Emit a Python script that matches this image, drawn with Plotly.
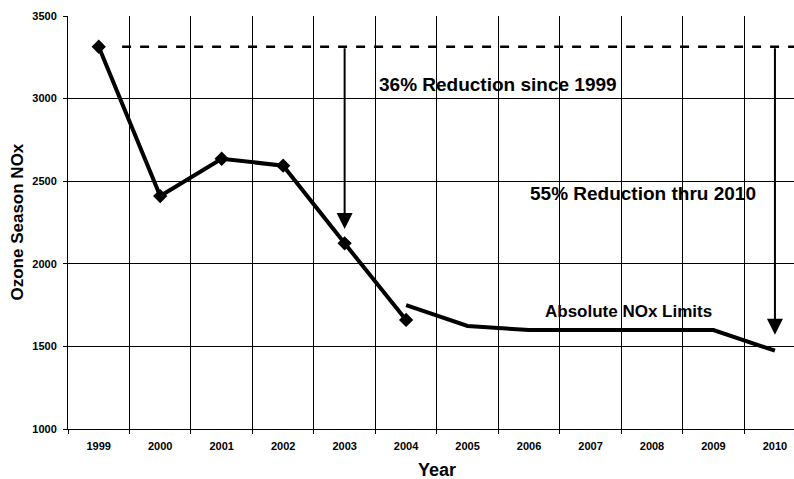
import plotly.graph_objects as go

years = ["1999", "2000", "2001", "2002", "2003", "2004",
         "2005", "2006", "2007", "2008", "2009", "2010"]
actual_years = ["1999", "2000", "2001", "2002", "2003", "2004"]
actual_nox = [3314, 2410, 2636, 2594, 2124, 1660]
limit_years = ["2004", "2005", "2006", "2007", "2008", "2009", "2010"]
limit_nox = [1750, 1624, 1599, 1599, 1599, 1599, 1474]
y_ticks = [1000, 1500, 2000, 2500, 3000, 3500]

arrow_years = ["2003", "2010"]
arrow_tips = [2210, 1570]

FONT = "Liberation Sans"
idx = {y: i for i, y in enumerate(years)}

fig = go.Figure()
fig.add_trace(go.Scatter(
    x=actual_years, y=actual_nox, mode="lines+markers",
    line=dict(color="black", width=4),
    marker=dict(symbol="diamond", size=11, color="black"),
    showlegend=False))
fig.add_trace(go.Scatter(
    x=limit_years, y=limit_nox, mode="lines",
    line=dict(color="black", width=4),
    showlegend=False))

baseline = actual_nox[0]
# dashed baseline
fig.add_shape(type="line", xref="x", yref="y", x0=0.38, x1=11.6,
              y0=baseline, y1=baseline,
              line=dict(color="black", width=2.5, dash="dash"))

for yr, tip in zip(arrow_years, arrow_tips):
    fig.add_annotation(x=idx[yr], y=tip, ax=idx[yr], ay=baseline,
                       xref="x", yref="y", axref="x", ayref="y",
                       text="", showarrow=True, arrowhead=2,
                       arrowsize=1.6, arrowwidth=2, arrowcolor="black")

fig.add_annotation(x=4.52, y=3088, xref="x", yref="y", xanchor="left",
                   yanchor="middle", showarrow=False,
                   text="36% Reduction since 1999",
                   font=dict(family=FONT, size=19, color="black", weight="bold"))
fig.add_annotation(x=6.99, y=2423, xref="x", yref="y", xanchor="left",
                   yanchor="middle", showarrow=False,
                   text="55% Reduction thru 2010",
                   font=dict(family=FONT, size=19, color="black", weight="bold"))
fig.add_annotation(x=7.22, y=1714, xref="x", yref="y", xanchor="left",
                   yanchor="middle", showarrow=False,
                   text="Absolute NOx Limits",
                   font=dict(family=FONT, size=17, color="black", weight="bold"))

# axis titles
fig.add_annotation(x=5.5, y=-0.1, xref="x", yref="paper", xanchor="center",
                   yanchor="middle", showarrow=False, text="Year",
                   font=dict(family=FONT, size=18, color="black", weight="bold"))
fig.add_annotation(x=-51 / 726, y=0.5, xref="paper", yref="paper",
                   xanchor="center", yanchor="middle", showarrow=False,
                   textangle=-90, text="Ozone Season NOx",
                   font=dict(family=FONT, size=17, color="black", weight="bold"))

fig.update_layout(
    width=794, height=479,
    margin=dict(l=68, r=0, t=16, b=50),
    plot_bgcolor="white", paper_bgcolor="white",
    font=dict(family=FONT, color="black"),
    xaxis=dict(type="category", categoryorder="array", categoryarray=years,
               range=[-0.5, 11.31], tickson="boundaries",
               showgrid=True, gridcolor="black", gridwidth=1,
               showline=True, linecolor="black", linewidth=1,
               ticks="outside", ticklen=4, tickcolor="black",
               ticklabelstandoff=7,
               tickfont=dict(family=FONT, size=11, color="black", weight="bold"),
               zeroline=False),
    yaxis=dict(range=[1000, 3500], tickvals=y_ticks,
               showgrid=True, gridcolor="black", gridwidth=1,
               showline=True, linecolor="black", linewidth=1,
               ticks="outside", ticklen=4, tickcolor="black",
               ticklabelstandoff=4,
               tickfont=dict(family=FONT, size=11, color="black", weight="bold"),
               zeroline=False),
)

fig.write_html("out.html")
